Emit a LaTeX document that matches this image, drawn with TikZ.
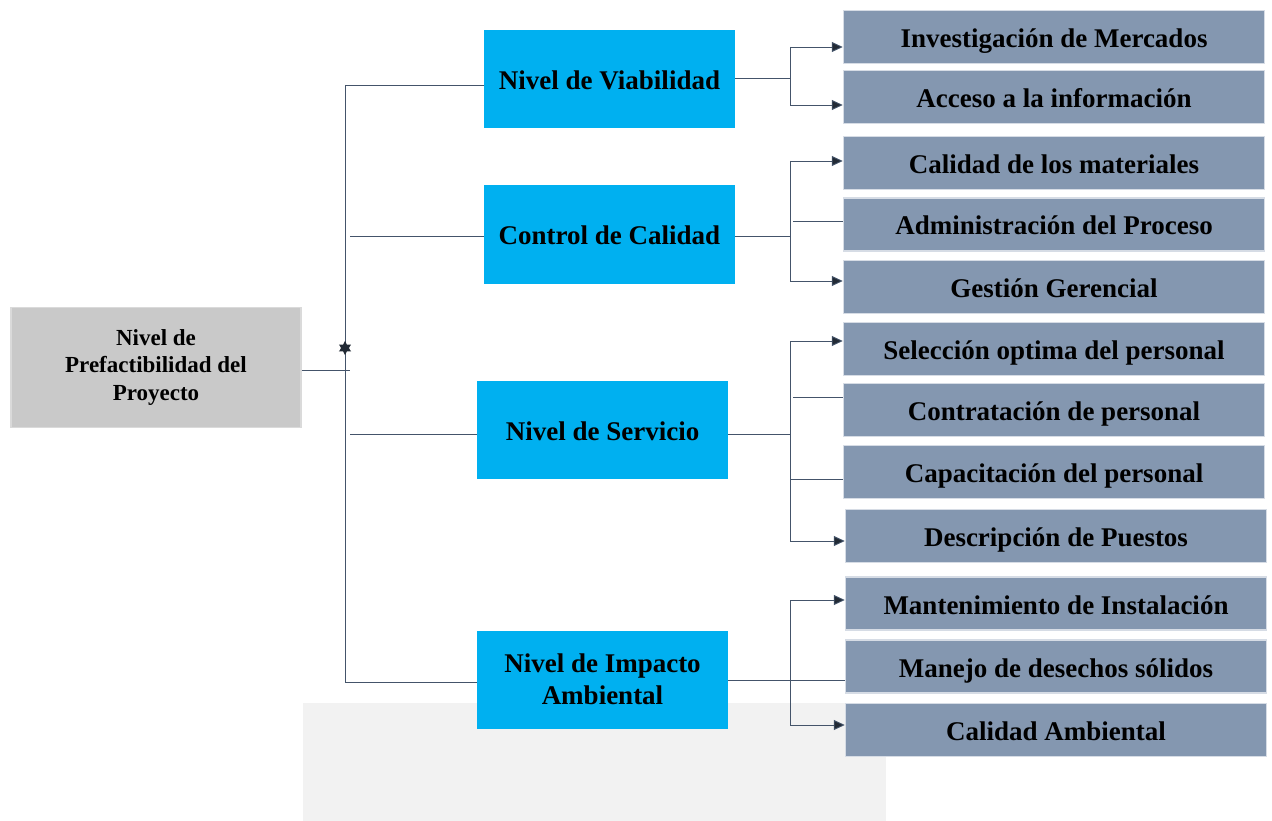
\documentclass[tikz,border=0pt]{standalone}
\usepackage{fontspec}
\setmainfont{Liberation Serif}
\usetikzlibrary{shapes.geometric,arrows.meta}
\definecolor{rootfill}{HTML}{C9C9C9}
\definecolor{rootline}{HTML}{DADADA}
\definecolor{bluefill}{HTML}{00B0F0}
\definecolor{subfill}{HTML}{8497B0}
\definecolor{subline}{HTML}{D6DCE5}
\definecolor{bgfill}{HTML}{F2F2F2}
\definecolor{conn}{HTML}{44546A}
\definecolor{tipc}{HTML}{222A35}
\tikzset{
  rootbox/.style={draw=rootline,line width=1.5pt,fill=rootfill,minimum width=290pt,minimum height=120pt,
    align=center,font=\fontsize{23}{27.5}\selectfont\bfseries,inner sep=0pt},
  levelbox/.style={fill=bluefill,minimum width=251pt,minimum height=98pt,align=center,
    font=\fontsize{27}{32}\selectfont\bfseries,inner sep=0pt},
  oneline/.style={text height=23pt,text depth=2pt},
  subbox/.style={draw=subline,line width=1.5pt,fill=subfill,minimum width=421pt,minimum height=53pt,
    font=\fontsize{27}{30}\selectfont\bfseries,inner sep=0pt,oneline},
  link/.style={draw=conn,line width=0.9pt},
  arrowlink/.style={link,-{Triangle[length=11pt,width=10pt,fill=tipc]}},
}
\begin{document}
\begin{tikzpicture}[x=1pt,y=-1pt]
\useasboundingbox (0,0) rectangle (1272,821);
\fill[bgfill] (303,703) rectangle (886,821);

% root
\node[rootbox] (root) at (156,367.5) {Nivel de\\Prefactibilidad del\\Proyecto};

% levels
\node[levelbox,oneline] (via) at (609.5,79) {Nivel de Viabilidad};
\node[levelbox,oneline] (cal) at (609.5,234.5) {Control de Calidad};
\node[levelbox,oneline] (ser) at (602.5,429.5) {Nivel de Servicio};
\node[levelbox] (imp) at (602.5,679.5) {Nivel de Impacto\\Ambiental};

% sub boxes
\node[subbox] (s1) at (1054,37) {Investigación de Mercados};
\node[subbox] (s2) at (1054,97) {Acceso a la información};
\node[subbox] (s3) at (1054,163) {Calidad de los materiales};
\node[subbox] (s4) at (1054,224.5) {Administración del Proceso};
\node[subbox] (s5) at (1054,287) {Gestión Gerencial};
\node[subbox] (s6) at (1054,349) {Selección optima del personal};
\node[subbox] (s7) at (1054,410) {Contratación de personal};
\node[subbox] (s8) at (1054,472) {Capacitación del personal};
\node[subbox] (s9) at (1056,536) {Descripción de Puestos};
\node[subbox] (s10) at (1056,603.5) {Mantenimiento de Instalación};
\node[subbox] (s11) at (1056,666.5) {Manejo de desechos sólidos};
\node[subbox] (s12) at (1056,730) {Calidad Ambiental};

% trunk
\coordinate (tTop) at (345,85);
\coordinate (tBot) at (345,682);
\coordinate (rj) at (350,370);
\draw[link] (tTop) -- (tBot);
\draw[link] (root.east |- rj) -- (rj);
\draw[link] (tTop) -- (via.west |- tTop);
\draw[link] (350,236) coordinate (cj) -- (cal.west |- cj);
\draw[link] (350,434) coordinate (sj) -- (ser.west |- sj);
\draw[link] (tBot) -- (imp.west |- tBot);
\node[star,star points=6,star point ratio=1.8,fill=tipc,inner sep=0pt,minimum size=14pt] (mk) at (345,348) {};

% Viabilidad branch
\coordinate (v1) at (790,47);
\coordinate (v2) at (790,105);
\draw[link,line width=1.6pt] (via.east |- 0,78.5) -- (790,78.5);
\draw[link] (v1) -- (v2);
\draw[arrowlink] (v1) -- (s1.west |- v1);
\draw[arrowlink] (v2) -- (s2.west |- v2);

% Control branch
\coordinate (c1) at (790,161);
\coordinate (c2) at (790,281);
\draw[link] (cal.east |- 0,236) -- (790,236);
\draw[link] (c1) -- (c2);
\draw[arrowlink] (c1) -- (s3.west |- c1);
\draw[link] (793,221) coordinate (c3) -- (s4.west |- c3);
\draw[arrowlink] (c2) -- (s5.west |- c2);

% Servicio branch
\coordinate (e1) at (790,341);
\coordinate (e2) at (790,541);
\draw[link] (ser.east |- 0,434) -- (790,434);
\draw[link] (e1) -- (e2);
\draw[arrowlink] (e1) -- (s6.west |- e1);
\draw[link] (793,397) coordinate (e3) -- (s7.west |- e3);
\draw[link] (790,479) coordinate (e4) -- (s8.west |- e4);
\draw[arrowlink] (e2) -- (s9.west |- e2);

% Impacto branch
\coordinate (i1) at (790,600);
\coordinate (i2) at (790,725);
\draw[link] (imp.east |- 0,680) -- (s11.west |- 0,680);
\draw[link] (i1) -- (i2);
\draw[arrowlink] (i1) -- (s10.west |- i1);
\draw[arrowlink] (i2) -- (s12.west |- i2);
\end{tikzpicture}
\end{document}
